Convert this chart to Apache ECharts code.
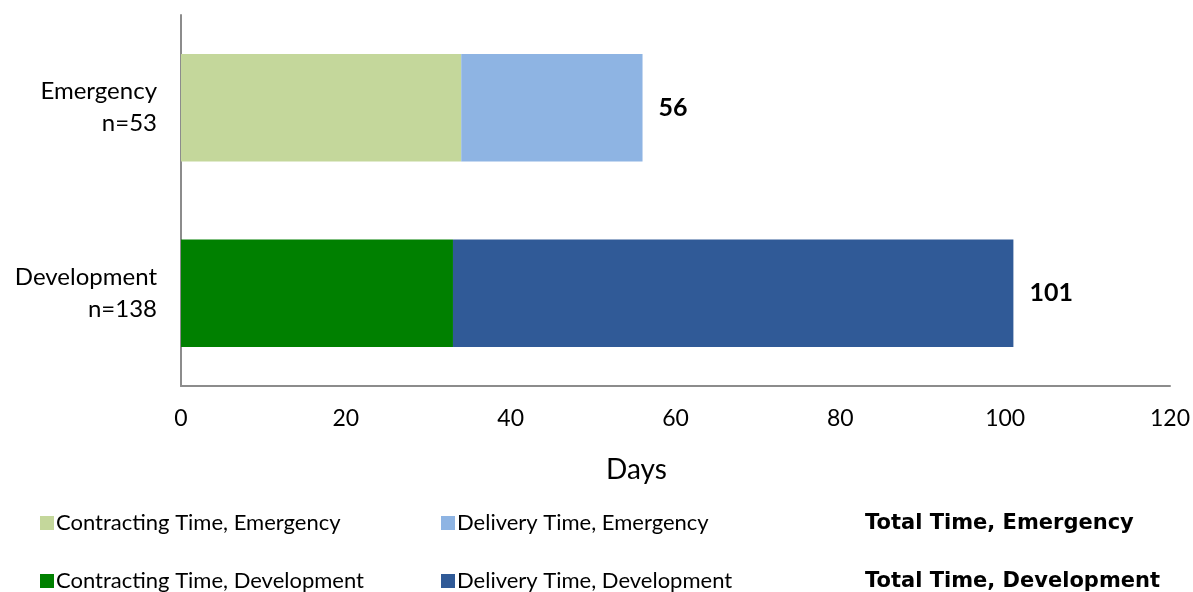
<!DOCTYPE html>
<html>
<head>
<meta charset="utf-8">
<script src="https://cdn.jsdelivr.net/npm/echarts@6/dist/echarts.min.js"></script>
<style>
  html, body { margin: 0; padding: 0; background: #fff; }
  #chart { width: 1193px; height: 592px; }
</style>
</head>
<body>
<div id="chart"></div>
<script>
// Categories (top to bottom)
const categories = ['Emergency\nn=53', 'Development\nn=138'];

// Days spent in each phase
const contractingEmergency = [34, '-'];
const deliveryEmergency = [22, '-'];
const contractingDevelopment = ['-', 33];
const deliveryDevelopment = ['-', 68];

const xTicks = { min: 0, max: 120, interval: 20 };

// Total time per category = contracting + delivery
function totals(a, b) {
  return a.map((v, i) => (v === '-' ? '-' : v + b[i]));
}
const totalEmergency = totals(contractingEmergency, deliveryEmergency);
const totalDevelopment = totals(contractingDevelopment, deliveryDevelopment);

const FONT = 'Lato, "DejaVu Sans", sans-serif';
const BOLD_FONT = '"DejaVu Sans", Lato, sans-serif';
const AXIS_COLOR = '#8c8c8c';
const BAR_W = '58%';

function stackBar(name, data, color) {
  return {
    name, type: 'bar', stack: 'time', data, barWidth: BAR_W,
    itemStyle: { color }, emphasis: { disabled: true }
  };
}
function totalBar(name, data) {
  return {
    name, type: 'bar', stack: 'total', data, barWidth: BAR_W, barGap: '-100%',
    itemStyle: { color: 'rgba(0,0,0,0)' }, emphasis: { disabled: true }, z: 1,
    label: {
      show: true, position: 'right', distance: 16,
      fontFamily: FONT, fontSize: 25, fontWeight: 'bold', color: '#000'
    }
  };
}

// One legend entry per block so the 3x2 layout can be placed exactly
function legendItem(left, top, name, bold) {
  const item = { name, icon: 'rect' };
  if (bold) item.itemStyle = { opacity: 0 };
  return {
    left, top, itemWidth: 14, itemHeight: 14, itemGap: 0, padding: 0,
    selectedMode: false,
    textStyle: bold
      ? { fontFamily: BOLD_FONT, fontSize: 21, color: '#000', fontWeight: 'bold', padding: [0, 0, 0, -3] }
      : { fontFamily: FONT, fontSize: 22, color: '#000', padding: [0, 0, 0, -3] },
    data: [item]
  };
}

const chart = echarts.init(document.getElementById('chart'));
chart.setOption({
  animation: false,
  backgroundColor: '#fff',
  grid: { left: 181, right: 23, top: 15, bottom: 206, containLabel: false },
  legend: [
    legendItem(40, 512, 'Contracting Time, Emergency'),
    legendItem(40, 570, 'Contracting Time, Development'),
    legendItem(441, 512, 'Delivery Time, Emergency'),
    legendItem(441, 570, 'Delivery Time, Development'),
    legendItem(849, 513, 'Total Time, Emergency', true),
    legendItem(849, 571, 'Total Time, Development', true)
  ],
  xAxis: {
    type: 'value', min: xTicks.min, max: xTicks.max, interval: xTicks.interval,
    name: 'Days', nameLocation: 'middle', nameGap: 70,
    nameTextStyle: { fontFamily: FONT, fontSize: 28, color: '#000', padding: [0, 78, 0, 0] },
    axisLine: { show: true, lineStyle: { color: AXIS_COLOR, width: 2 } },
    axisTick: { show: false },
    splitLine: { show: false },
    axisLabel: { fontFamily: FONT, fontSize: 23, color: '#000', margin: 21 }
  },
  yAxis: {
    type: 'category', data: categories, inverse: true,
    axisLine: { show: true, lineStyle: { color: AXIS_COLOR, width: 2 } },
    axisTick: { show: false },
    axisLabel: { fontFamily: FONT, fontSize: 24, color: '#000', margin: 24,
      align: 'right', lineHeight: 32 }
  },
  series: [
    stackBar('Contracting Time, Emergency', contractingEmergency, '#C4D79B'),
    stackBar('Delivery Time, Emergency', deliveryEmergency, '#8EB4E3'),
    stackBar('Contracting Time, Development', contractingDevelopment, '#008000'),
    stackBar('Delivery Time, Development', deliveryDevelopment, '#305A97'),
    totalBar('Total Time, Emergency', totalEmergency),
    totalBar('Total Time, Development', totalDevelopment)
  ]
});
</script>
</body>
</html>
